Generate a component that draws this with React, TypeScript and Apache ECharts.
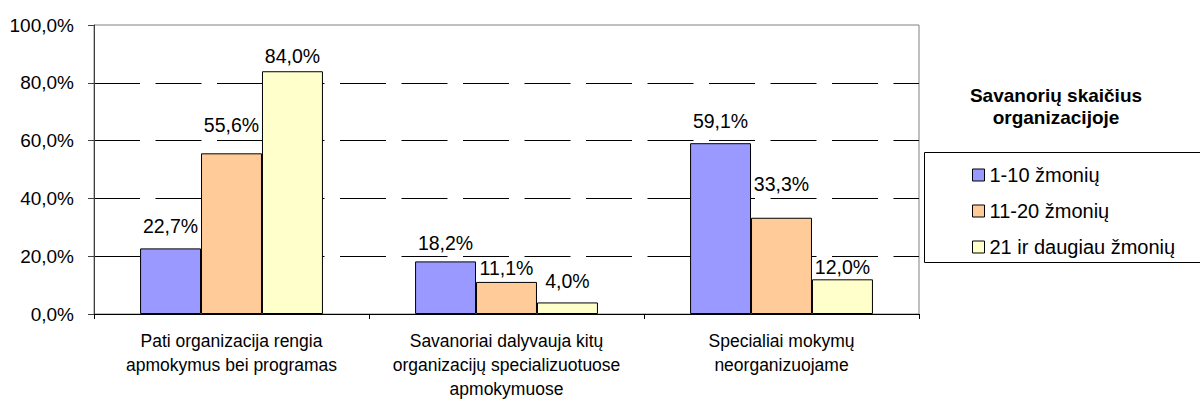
import React, { useEffect, useRef } from "react";
import * as echarts from "echarts";

const categories = [
  "Pati organizacija rengia\napmokymus bei programas",
  "Savanoriai dalyvauja kitų\norganizacijų specializuotuose\napmokymuose",
  "Specialiai mokymų\nneorganizuojame",
];
const seriesNames = ["1-10 žmonių", "11-20 žmonių", "21 ir daugiau žmonių"];
const values110 = [22.7, 18.2, 59.1];
const values1120 = [55.6, 11.1, 33.3];
const values21 = [84.0, 4.0, 12.0];
const seriesColors = ["#9999FF", "#FFCC99", "#FFFFCC"];
// label distances above bars (styling only)
const labelDist110 = [12, 8, 12];
const labelDist1120 = [18, 4, 24];
const labelDist21 = [5, 11, 2];
const legendTitle = "Savanorių skaičius\norganizacijoje";

const FONT = '"Liberation Sans", Arial, sans-serif';
const fmt = (v: number) => v.toFixed(1).replace(".", ",") + "%";

export default function App() {
  const ref = useRef<HTMLDivElement>(null);
  useEffect(() => {
    if (!ref.current) return;
    const chart = echarts.init(ref.current, null, { renderer: "svg" });
    const allValues = [values110, values1120, values21];
    const allDists = [labelDist110, labelDist1120, labelDist21];
    const series = seriesNames.map((name, si) => ({
      name,
      type: "bar",
      barGap: "0%",
      barCategoryGap: "33.5%",
      itemStyle: { color: seriesColors[si], borderColor: "#000", borderWidth: 1 },
      label: {
        show: true,
        position: "top",
        fontFamily: FONT,
        fontSize: 19.5,
        lineHeight: 20,
        color: "#000",
        formatter: (p: any) => fmt(p.value),
      },
      data: allValues[si].map((v, i) => ({
        value: v,
        label: { distance: allDists[si][i] },
      })),
    }));
    chart.setOption({
      animation: false,
      backgroundColor: "#fff",
      textStyle: { fontFamily: FONT },
      grid: {
        left: 94,
        right: 281,
        top: 25,
        bottom: 83,
        show: true,
        borderColor: "#808080",
        borderWidth: 1,
        containLabel: false,
      },
      legend: {
        orient: "vertical",
        left: 967,
        top: 160,
        itemWidth: 12,
        itemHeight: 12,
        itemGap: 16,
        icon: "rect",
        data: seriesNames,
        itemStyle: { borderColor: "#000", borderWidth: 1 },
        textStyle: { fontFamily: FONT, fontSize: 20, color: "#000", lineHeight: 20 },
        selectedMode: false,
      },
      xAxis: {
        type: "category",
        data: categories,
        axisLine: { lineStyle: { color: "#000", width: 1 } },
        axisTick: { show: true, alignWithLabel: false, length: 5, lineStyle: { color: "#000" } },
        axisLabel: {
          interval: 0,
          margin: 15,
          fontFamily: FONT,
          fontSize: 17.5,
          lineHeight: 24,
          color: "#000",
        },
        splitLine: { show: false },
      },
      yAxis: {
        type: "value",
        min: 0,
        max: 100,
        interval: 20,
        axisLine: { show: true, lineStyle: { color: "#404040", width: 1 } },
        axisTick: { show: true, length: 6, lineStyle: { color: "#404040" } },
        axisLabel: {
          margin: 20,
          fontFamily: FONT,
          fontSize: 19,
          color: "#000",
          formatter: (v: number) => fmt(v),
        },
        splitLine: {
          show: true,
          showMinLine: false,
          showMaxLine: false,
          lineStyle: { color: "#000", width: 1, type: [46, 15.5] },
        },
      },
      graphic: [
        {
          type: "rect",
          shape: { x: 924.5, y: 152.5, width: 300, height: 110 },
          style: { fill: "none", stroke: "#000", lineWidth: 1 },
          silent: true,
        },
        {
          type: "text",
          x: 1056,
          y: 106.5,
          style: {
            text: legendTitle,
            fill: "#000",
            font: `bold 19px ${FONT}`,
            textAlign: "center",
            textVerticalAlign: "middle",
            lineHeight: 22.5,
          },
          silent: true,
        },
      ],
      series,
    });
    return () => chart.dispose();
  }, []);
  return (
    <div
      ref={ref}
      style={{ position: "fixed", left: 0, top: 0, width: 1200, height: 401, background: "#fff" }}
    />
  );
}
